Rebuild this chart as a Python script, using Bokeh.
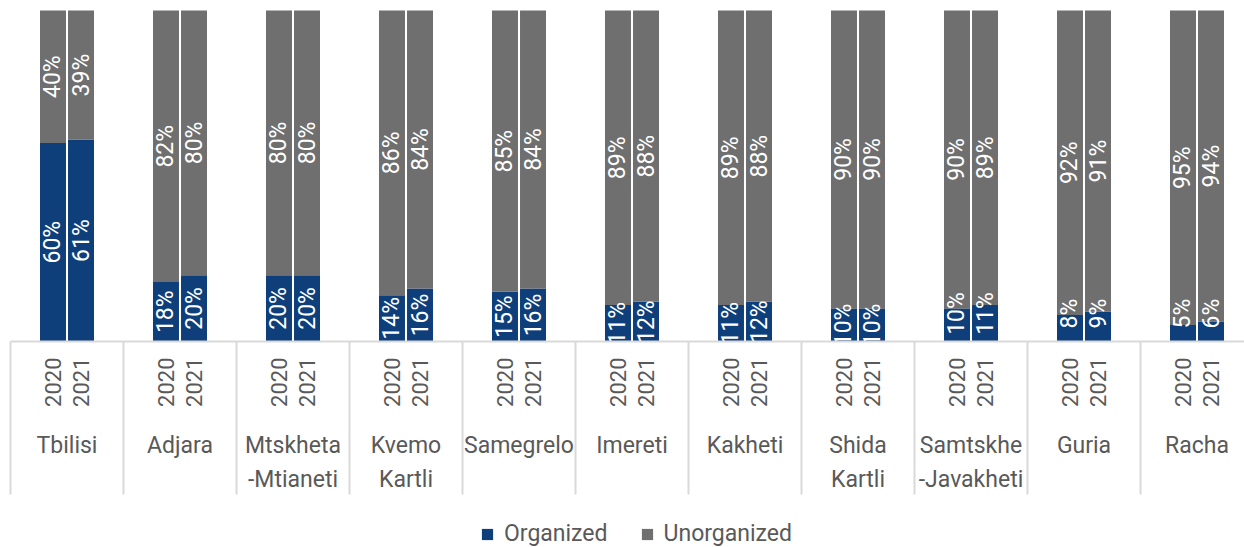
from bokeh.plotting import figure
from bokeh.models import ColumnDataSource, Legend, LegendItem, Range1d
from bokeh.core.properties import value
from bokeh.embed import file_html
from bokeh.resources import INLINE

regions = ["Tbilisi", "Adjara", "Mtskheta\n-Mtianeti", "Kvemo\nKartli", "Samegrelo",
           "Imereti", "Kakheti", "Shida\nKartli", "Samtskhe\n-Javakheti", "Guria", "Racha"]
years = ["2020", "2021"]
organized_2020 = [60, 18, 20, 14, 15, 11, 11, 10, 10, 8, 5]
organized_2021 = [61, 20, 20, 16, 16, 12, 12, 10, 11, 9, 6]
unorganized_2020 = [40, 82, 80, 86, 85, 89, 89, 90, 90, 92, 95]
unorganized_2021 = [39, 80, 80, 84, 84, 88, 88, 90, 89, 91, 94]

# regions whose small "Organized" labels sit raised above the axis in the original
lifted_labels = ["Samtskhe\n-Javakheti", "Guria", "Racha"]

BLUE = "#0F3F7B"
GRAY = "#6F6F6F"
TXT = "#595959"
SEP = "#D9D9D9"
FONT = "Roboto"

# geometry (group index units on x, percent on y)
PX_PER_GROUP = 113.0
PX_PER_PCT = 3.31
AXIS_PX = 341
LEFT_PX = 10
offsets = [0.376, 0.624]
bar_w = 0.23
LIFT = (AXIS_PX - 313) / PX_PER_PCT

xs, yr, org, unorg, org_mid = [], [], [], [], []
for i, reg in enumerate(regions):
    for j, (o_list, u_list) in enumerate([(organized_2020, unorganized_2020),
                                          (organized_2021, unorganized_2021)]):
        o = o_list[i]
        xs.append(i + offsets[j])
        yr.append(years[j])
        org.append(o)
        unorg.append(u_list[i])
        org_mid.append(max(o / 2, LIFT) if reg in lifted_labels else o / 2)

src = ColumnDataSource(dict(
    x=xs, year=yr, Organized=org, Unorganized=unorg,
    org_mid=org_mid,
    un_mid=[o + u / 2 for o, u in zip(org, unorg)],
    org_lbl=[f"{o}%" for o in org],
    un_lbl=[f"{u}%" for u in unorg],
))

W, H = 1244, 547
x_start = -LEFT_PX / PX_PER_GROUP
x_end = x_start + W / PX_PER_GROUP
y_end = AXIS_PX / PX_PER_PCT
y_start = y_end - H / PX_PER_PCT

p = figure(width=W, height=H, output_backend="svg", toolbar_location=None,
           x_range=Range1d(x_start, x_end), y_range=Range1d(y_start, y_end),
           min_border=0)
p.xaxis.visible = False
p.yaxis.visible = False
p.xgrid.visible = False
p.ygrid.visible = False
p.outline_line_color = None
p.background_fill_color = "white"

rs = p.vbar_stack(["Organized", "Unorganized"], x="x", width=bar_w, source=src,
                  color=[BLUE, GRAY], line_color=None)

# value labels
p.text(x="x", y="org_mid", text="org_lbl", source=src, angle=1.5708,
       text_align="center", text_baseline="middle", text_color="white",
       text_font=value(FONT), text_font_size="23px")
p.text(x="x", y="un_mid", text="un_lbl", source=src, angle=1.5708,
       text_align="center", text_baseline="middle", text_color="white",
       text_font=value(FONT), text_font_size="23px")

# white area under the axis hides overflowing labels
p.quad(left=x_start, right=x_end, bottom=y_start, top=0, fill_color="white",
       line_color=None)

# category axis drawn in data space
n = len(regions)
p.segment(x0=[0], y0=[0], x1=[x_end], y1=[0], line_color=SEP, line_width=2)
bounds = list(range(n + 1))
p.segment(x0=bounds, y0=[0] * len(bounds), x1=bounds,
          y1=[(AXIS_PX - 494) / PX_PER_PCT] * len(bounds), line_color=SEP, line_width=2)

p.text(x="x", y=(AXIS_PX - 357) / PX_PER_PCT, text="year", source=src,
       angle=1.5708, text_align="right", text_baseline="middle", text_color=TXT,
       text_font=value(FONT), text_font_size="22px")

p.text(x=[i + 0.5 for i in range(n)], y=[(AXIS_PX - 431) / PX_PER_PCT] * n, text=regions,
       text_align="center", text_baseline="top", text_color=TXT,
       text_font=value(FONT), text_font_size="23px", text_line_height=1.26)

legend = Legend(items=[LegendItem(label="Organized", renderers=[rs[0]]),
                       LegendItem(label="Unorganized", renderers=[rs[1]])],
                location=(480, 0), orientation="horizontal",
                padding=0, margin=0, spacing=32, label_standoff=10,
                glyph_width=14, glyph_height=14,
                label_text_font=FONT, label_text_font_size="23px",
                label_text_color=TXT, border_line_color=None,
                background_fill_alpha=0)
p.add_layout(legend)

open("out.html", "w").write(file_html(p, INLINE))
